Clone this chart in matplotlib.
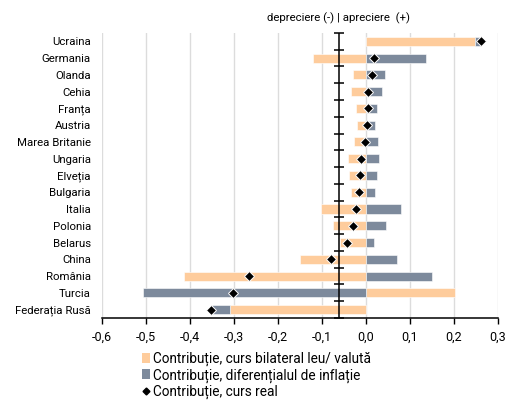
import matplotlib.pyplot as plt
import numpy as np
from matplotlib.lines import Line2D
from matplotlib.patches import Patch

plt.rcParams['font.family'] = ['Roboto', 'DejaVu Sans']

tari = ["Ucraina", "Germania", "Olanda", "Cehia", "Franța", "Austria",
        "Marea Britanie", "Ungaria", "Elveția", "Bulgaria", "Italia",
        "Polonia", "Belarus", "China", "România", "Turcia", "Federația Rusă"]
curs_bilateral = [0.248, -0.121, -0.030, -0.033, -0.023, -0.020, -0.027, -0.040,
                  -0.039, -0.034, -0.103, -0.075, -0.059, -0.150, -0.414, 0.204, -0.310]
dif_inflatie = [0.013, 0.138, 0.043, 0.036, 0.026, 0.022, 0.027, 0.029,
                0.026, 0.020, 0.081, 0.046, 0.018, 0.071, 0.150, -0.507, -0.040]
curs_real = [0.261, 0.018, 0.015, 0.005, 0.005, 0.002, -0.001, -0.011,
             -0.013, -0.015, -0.023, -0.029, -0.042, -0.080, -0.266, -0.303, -0.351]

c_orange = "#FECC9C"
c_gray = "#7D8A9C"

a = np.array(curs_bilateral)
b = np.array(dif_inflatie)
y = np.arange(len(tari))

# stacking pe semne separate (ca in Excel)
b_left = np.where(np.sign(b) == np.sign(a), a, 0.0)

fig = plt.figure(figsize=(5.06, 4.01), dpi=100)
ax = fig.add_axes([0.2016, 0.207, 0.782, 0.711])

h = 0.54
ax.barh(y, a, height=h, color=c_orange, edgecolor="white", linewidth=0.4, zorder=2)
ax.barh(y, b, left=b_left, height=h, color=c_gray, edgecolor="white", linewidth=0.4, zorder=2)
ax.plot(curs_real, y, linestyle="none", marker="D", markersize=5.4,
        markerfacecolor="black", markeredgecolor="white", markeredgewidth=0.7, zorder=4)

ax.set_xlim(-0.6, 0.3)
ax.set_ylim(len(tari) - 0.5, -0.5)
ticks = np.round(np.arange(-0.6, 0.31, 0.1), 1)
ax.set_xticks(ticks)
ax.set_xticklabels([f"{t:.1f}".replace(".", ",").replace("-0,0", "0,0") for t in ticks], fontsize=9)
ax.set_yticks(y)
ax.set_yticklabels(tari, fontsize=8.2)
ax.tick_params(axis="y", length=0, pad=8)
ax.tick_params(axis="x", direction="out", length=4, width=1, color="black", pad=5)
ax.grid(axis="x", color="#DCDCDC", linewidth=1, zorder=0)
for s in ["left", "right", "top"]:
    ax.spines[s].set_visible(False)
ax.spines["bottom"].set_linewidth(1.1)

# axa categoriilor, cu gradatii intre tari
x0 = -0.061
ax.axvline(x0, color="black", linewidth=1.1, zorder=3)
ax.plot([x0] * (len(tari) + 1), np.arange(len(tari) + 1) - 0.5, linestyle="none",
        marker="_", markersize=7, markeredgewidth=1.1, color="black", zorder=3, clip_on=False)

fig.text(0.668, 0.955, "depreciere (-) | apreciere  (+)", ha="center", va="center", fontsize=8.2)

handles = [Patch(facecolor=c_orange, edgecolor="none"),
           Patch(facecolor=c_gray, edgecolor="none"),
           Line2D([], [], linestyle="none", marker="D", markersize=3.5, color="black")]
labels = ["Contribuție, curs bilateral leu/ valută",
          "Contribuție, diferențialul de inflație",
          "Contribuție, curs real"]
fig.legend(handles, labels, loc="upper left", bbox_to_anchor=(0.28, 0.124), frameon=False,
           fontsize=9.8, handlelength=0.6, handleheight=0.75, handletextpad=0.25,
           labelspacing=0.18, borderaxespad=0, borderpad=0)

fig.savefig("out.png", dpi=100)
